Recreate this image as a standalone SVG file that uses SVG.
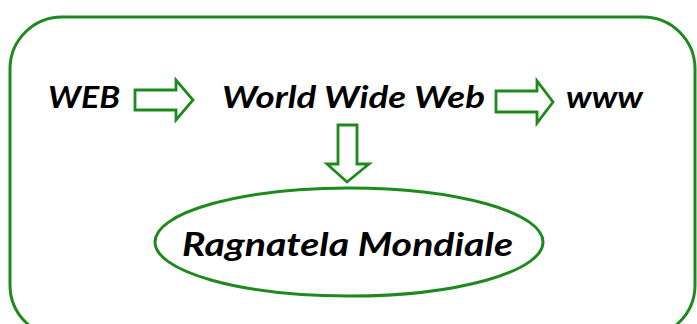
<svg xmlns="http://www.w3.org/2000/svg" width="697" height="324" viewBox="0 0 697 324">
<style>
.frame{fill:none;stroke:#1e8a1e;stroke-width:3}
.arr{fill:#fff;stroke:#1e8a1e;stroke-width:2.8;stroke-linejoin:miter}
.t{font-family:Lato,"Noto Sans","DejaVu Sans",sans-serif;font-weight:700;font-style:italic;fill:#000}
</style>
<rect width="697" height="324" fill="#fff"/>
<g id="frame"><rect class="frame" x="10" y="17" width="685" height="320" rx="52" ry="52"/></g>
<g id="connectors">
<polygon class="arr" points="135,90 176,90 176,80 193,100 176,120 176,110 135,110"/>
<polygon class="arr" points="496,91 537,91 537,81 553,102 537,123 537,112 496,112"/>
<polygon class="arr" points="338,125 357,125 357,164 369,164 347,182 327,164 338,164"/>
</g>
<g id="n-web"><text class="t" x="48" y="108" font-size="30" textLength="72" lengthAdjust="spacingAndGlyphs">WEB</text></g>
<g id="n-wwweb"><text class="t" x="222" y="108" font-size="30" textLength="263" lengthAdjust="spacingAndGlyphs">World Wide Web</text></g>
<g id="n-www"><text class="t" x="566" y="108" font-size="30" textLength="77" lengthAdjust="spacingAndGlyphs">www</text></g>
<g id="n-ragnatela">
<ellipse class="frame" cx="349" cy="242" rx="194" ry="54"/>
<text class="t" x="182" y="256" font-size="32" textLength="331" lengthAdjust="spacingAndGlyphs">Ragnatela Mondiale</text>
</g>
</svg>
